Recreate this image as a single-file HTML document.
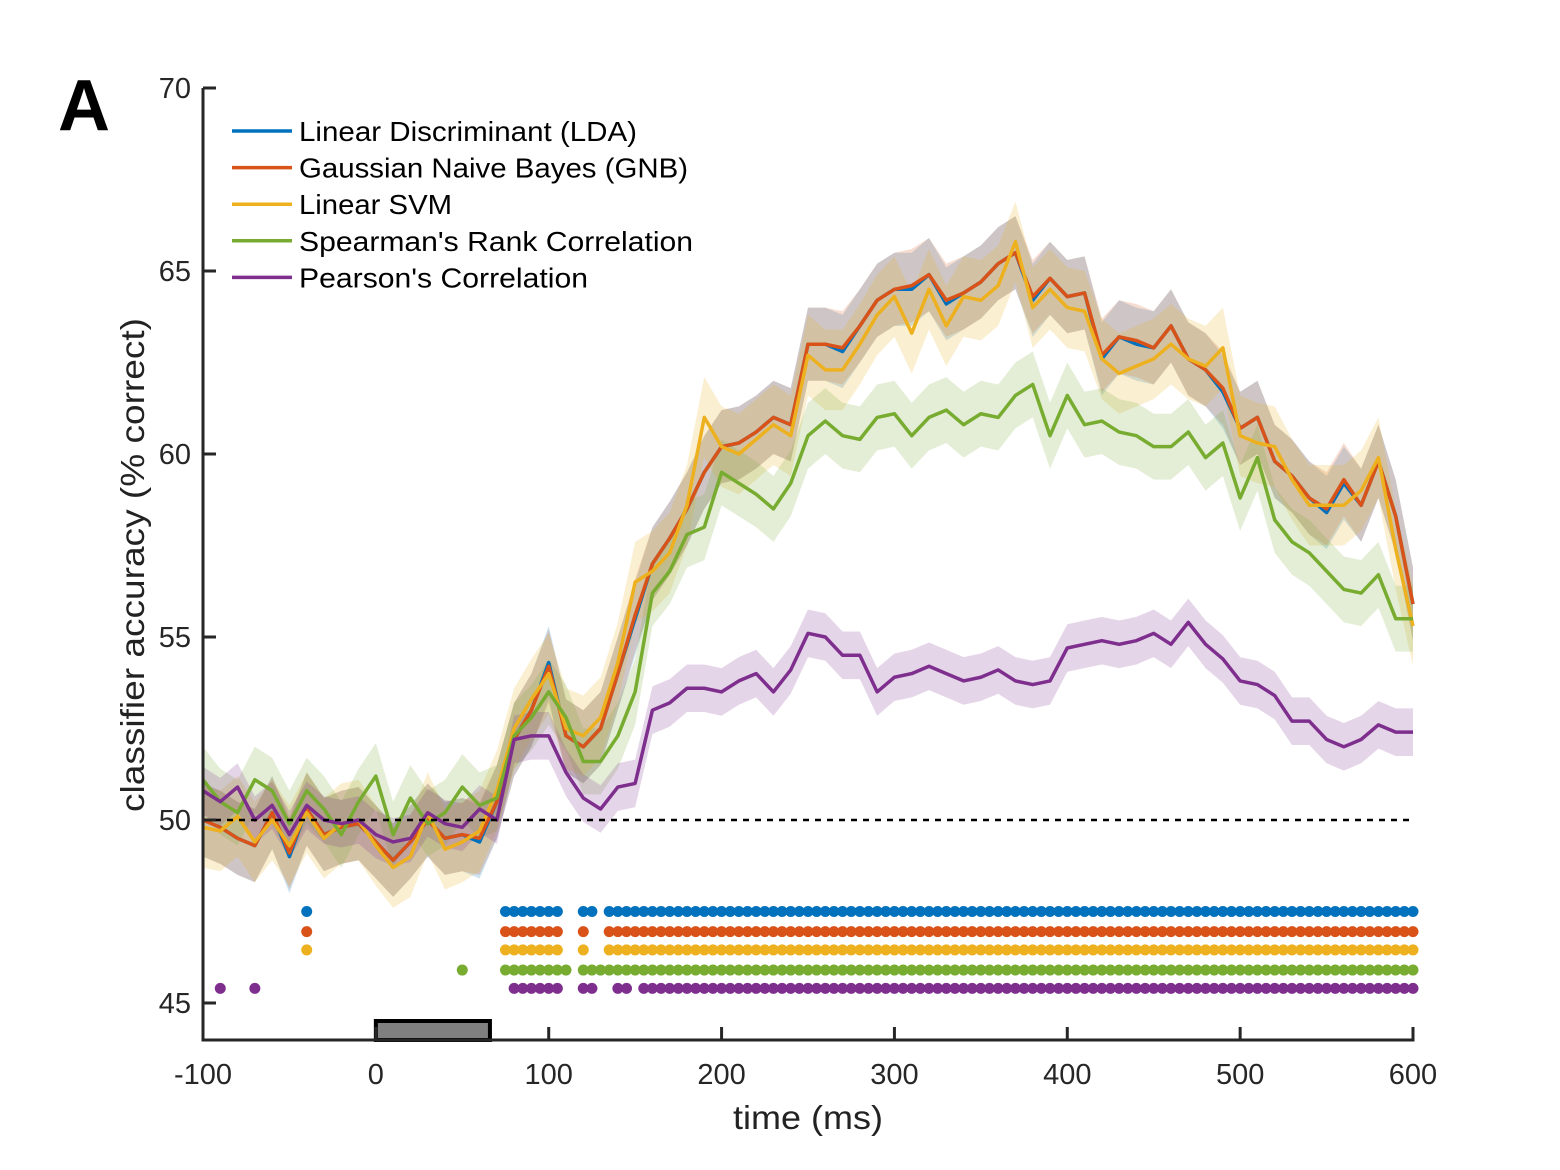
<!DOCTYPE html>
<html><head><meta charset="utf-8"><style>
html,body{margin:0;padding:0;background:#fff}
svg{display:block;font-family:"Liberation Sans",sans-serif}
</style></head><body>
<svg id="chart" width="1560" height="1170" viewBox="0 0 1560 1170" xmlns="http://www.w3.org/2000/svg">
<text x="58" y="130" font-size="72" font-weight="bold" fill="#000" textLength="58">A</text>
<g id="bands"></g>
<g id="lines"></g>
<g id="dots"></g>
<g id="axes"></g>
<g id="legend"></g>
<text x="733" y="1129" font-size="33" textLength="150" lengthAdjust="spacingAndGlyphs" fill="#222">time (ms)</text>
<text transform="translate(144,565) rotate(-90)" font-size="33" text-anchor="middle" textLength="494" lengthAdjust="spacingAndGlyphs" fill="#222">classifier accuracy (% correct)</text>
</svg>
<script>
const times = [-100,-90,-80,-70,-60,-50,-40,-30,-20,-10,0,10,20,30,40,50,60,70,80,90,100,110,120,130,140,150,160,170,180,190,200,210,220,230,240,250,260,270,280,290,300,310,320,330,340,350,360,370,380,390,400,410,420,430,440,450,460,470,480,490,500,510,520,530,540,550,560,570,580,590,600];
const ldaValues = [50.0,49.8,49.5,49.3,50.2,49.0,50.3,49.6,49.8,49.9,49.4,48.9,49.4,50.0,49.5,49.6,49.4,50.5,52.2,53.0,54.3,52.3,52.0,52.5,54.0,55.5,57.0,57.7,58.5,59.5,60.2,60.3,60.6,61.0,60.8,63.0,63.0,62.8,63.5,64.2,64.5,64.5,64.9,64.1,64.4,64.7,65.2,65.5,64.2,64.8,64.3,64.4,62.6,63.2,63.0,62.9,63.5,62.6,62.3,61.7,60.7,61.0,59.8,59.4,58.8,58.4,59.2,58.6,59.8,58.3,55.9];
const gnbValues = [50.0,49.8,49.5,49.3,50.2,49.1,50.3,49.6,49.8,49.9,49.4,48.9,49.4,50.0,49.5,49.6,49.5,50.5,52.2,53.0,54.2,52.3,52.0,52.5,54.0,55.6,57.0,57.7,58.5,59.5,60.2,60.3,60.6,61.0,60.8,63.0,63.0,62.9,63.5,64.2,64.5,64.6,64.9,64.2,64.4,64.7,65.2,65.5,64.3,64.8,64.3,64.4,62.7,63.2,63.1,62.9,63.5,62.6,62.3,61.8,60.7,61.0,59.8,59.4,58.8,58.5,59.3,58.6,59.8,58.3,55.9];
const svmValues = [49.8,49.7,50.1,49.4,50.0,49.3,50.2,49.5,49.9,50.0,49.3,48.7,49.0,50.2,49.2,49.4,49.7,50.8,52.5,53.3,54.0,52.5,52.3,52.8,54.3,56.5,56.8,57.3,58.6,61.0,60.2,60.0,60.4,60.8,60.5,62.7,62.3,62.3,63.0,63.8,64.3,63.3,64.5,63.5,64.3,64.2,64.6,65.8,64.0,64.5,64.0,63.9,62.6,62.2,62.4,62.6,63.0,62.6,62.4,62.9,60.5,60.3,60.2,59.3,58.6,58.6,58.6,59.0,59.9,57.4,55.3];
const spearmanValues = [51.1,50.5,50.2,51.1,50.8,49.9,50.8,50.3,49.6,50.5,51.2,49.6,50.6,49.9,50.2,50.9,50.4,50.6,52.3,52.8,53.5,52.8,51.6,51.6,52.3,53.5,56.2,56.8,57.8,58.0,59.5,59.2,58.9,58.5,59.2,60.5,60.9,60.5,60.4,61.0,61.1,60.5,61.0,61.2,60.8,61.1,61.0,61.6,61.9,60.5,61.6,60.8,60.9,60.6,60.5,60.2,60.2,60.6,59.9,60.3,58.8,59.9,58.2,57.6,57.3,56.8,56.3,56.2,56.7,55.5,55.5];
const pearsonValues = [50.8,50.5,50.9,50.0,50.4,49.6,50.4,50.0,49.9,50.0,49.6,49.4,49.5,50.2,49.9,49.8,50.3,50.0,52.2,52.3,52.3,51.3,50.6,50.3,50.9,51.0,53.0,53.2,53.6,53.6,53.5,53.8,54.0,53.5,54.1,55.1,55.0,54.5,54.5,53.5,53.9,54.0,54.2,54.0,53.8,53.9,54.1,53.8,53.7,53.8,54.7,54.8,54.9,54.8,54.9,55.1,54.8,55.4,54.8,54.4,53.8,53.7,53.4,52.7,52.7,52.2,52.0,52.2,52.6,52.4,52.4];
const errHalf = [1.0,1.0,1.1,0.9,0.65];
const seriesNames = ["Linear Discriminant (LDA)","Gaussian Naive Bayes (GNB)","Linear SVM","Spearman's Rank Correlation","Pearson's Correlation"];
const seriesKeys = ["lda","gnb","svm","spearman","pearson"];
const seriesColors = ["#0072BD","#D95319","#EDB120","#77AC30","#7E2F8E"];
const sigLda = [[-40,-40],[75,105],[120,125],[135,600]];
const sigGnb = [[-40,-40],[75,105],[120,120],[135,600]];
const sigSvm = [[-40,-40],[75,105],[120,120],[135,600]];
const sigSpearman = [[50,50],[75,110],[120,600]];
const sigPearson = [[-90,-90],[-70,-70],[80,105],[120,125],[140,145],[155,600]];
const sigLevels = [47.5,46.95,46.45,45.9,45.4];
const yTicks = [45,50,55,60,65,70];
const xTicks = [-100,0,100,200,300,400,500,600];
const stimulus = [0,66];

const NS="http://www.w3.org/2000/svg";
const X0=203,X1=1413,Y0=1040,YTOP=88;
const legendLengths=[338,389,153,394,289];
function xs(t){return X0+(t+100)*(X1-X0)/700;}
function ys(v){return 820-(v-50)*36.6;}
function mk(tag,attrs,parent){const e=document.createElementNS(NS,tag);for(const k in attrs)e.setAttribute(k,attrs[k]);parent.appendChild(e);return e;}
const allValues=[ldaValues,gnbValues,svmValues,spearmanValues,pearsonValues];
const allSig=[sigLda,sigGnb,sigSvm,sigSpearman,sigPearson];
const bands=document.getElementById('bands'),lines=document.getElementById('lines'),dots=document.getElementById('dots'),axes=document.getElementById('axes'),legend=document.getElementById('legend');

allValues.forEach((vals,i)=>{
  let up=vals.map((v,j)=>xs(times[j])+','+ys(v+errHalf[i]));
  let dn=vals.map((v,j)=>xs(times[j])+','+ys(v-errHalf[i])).reverse();
  const b=mk('polygon',{points:up.concat(dn).join(' '),fill:seriesColors[i],'fill-opacity':0.2,stroke:'none'},bands);
  
  
});
allValues.forEach((vals,i)=>{
  const l=mk('polyline',{points:vals.map((v,j)=>xs(times[j])+','+ys(v)).join(' '),fill:'none',stroke:seriesColors[i],'stroke-width':3.5,'stroke-linejoin':'round'},lines);
  
  
});
allSig.forEach((ranges,i)=>{
  ranges.forEach(r=>{for(let t=r[0];t<=r[1];t+=5){
    const c=mk('circle',{cx:xs(t),cy:ys(sigLevels[i]),r:5.5,fill:seriesColors[i]},dots);
    
    
  }});
});
const chance=mk('line',{x1:X0,x2:X1,y1:ys(50),y2:ys(50),stroke:'#000','stroke-width':2.5,'stroke-dasharray':'6,6'},axes);


const stim=mk('rect',{x:xs(stimulus[0]),y:1021,width:xs(stimulus[1])-xs(stimulus[0]),height:19,fill:'#808080',stroke:'#000','stroke-width':4},axes);


const ya=mk('line',{x1:X0,x2:X0,y1:YTOP,y2:Y0+1.5,stroke:'#262626','stroke-width':3},axes);


const xa=mk('line',{x1:X0-1.5,x2:X1+1.5,y1:Y0,y2:Y0,stroke:'#262626','stroke-width':3},axes);


yTicks.forEach(v=>{
  mk('line',{x1:X0,x2:X0+13,y1:ys(v),y2:ys(v),stroke:'#262626','stroke-width':3},axes);
  const t=mk('text',{x:191,y:ys(v)+10,'font-size':29,'text-anchor':'end',fill:'#262626'},axes);
  t.textContent=v;
  
  
});
xTicks.forEach(v=>{
  mk('line',{x1:xs(v),x2:xs(v),y1:Y0,y2:Y0-13,stroke:'#262626','stroke-width':3},axes);
  const t=mk('text',{x:xs(v),y:1084,'font-size':29,'text-anchor':'middle',fill:'#262626'},axes);
  t.textContent=v;
  
  
});
seriesNames.forEach((n,i)=>{
  const y=131+i*36.6;
  const g=mk('g',{},legend);
  
  
  mk('line',{x1:232,x2:292,y1:y,y2:y,stroke:seriesColors[i],'stroke-width':3.5},g);
  const t=mk('text',{x:299,y:y+10,'font-size':28,fill:'#000',textLength:legendLengths[i],lengthAdjust:'spacingAndGlyphs'},g);
  t.textContent=n;
});
</script>
</body></html>
